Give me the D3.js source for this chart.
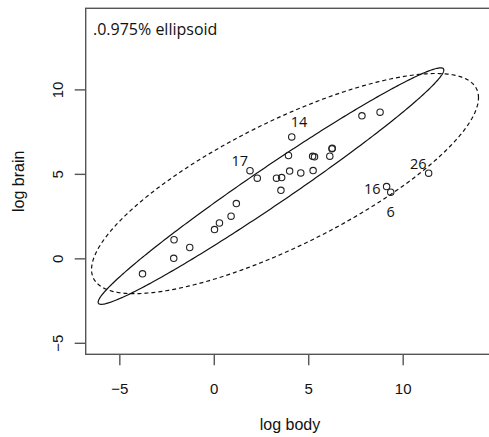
<!DOCTYPE html>
<html><head><meta charset="utf-8">
<script src="https://cdn.jsdelivr.net/npm/d3@7"></script>
<style>body{margin:0;background:#fff}svg{display:block}</style>
</head><body><svg id="c" width="489" height="437"></svg>
<script>
// Animals data (log scale), index 1..28
const ids = d3.range(1, 29);
const logBody = [0.300, 6.142, 3.593, 3.320, 0.039, 9.367, 7.843, 5.232, 6.256, 2.303,
  1.194, 6.271, 5.333, 4.127, 8.803, 9.148, 1.917, 3.555, -2.120, -3.772,
  0.916, 4.016, 4.605, 3.954, -1.273, 11.374, -2.104, 5.258];
const logBrain = [2.092, 6.047, 4.783, 4.745, 1.705, 3.912, 8.434, 6.038, 6.485, 4.745,
  3.243, 6.522, 6.006, 7.185, 8.650, 4.248, 5.187, 4.025, 0.000, -0.916,
  2.493, 5.165, 5.056, 6.087, 0.642, 5.040, 1.099, 5.193];
const xTicks = [-5, 0, 5, 10];
const yTicks = [-5, 0, 5, 10];
const labelIds = [14, 17, 26, 16, 6];
const labelPos = ["NE", "NW", "NW", "W", "S"];
const robustExcluded = [6, 14, 16, 17, 26];
const level = 0.975;
const xDomain = [-6.78, 14.85];
const yDomain = [-5.68, 14.8];
const titleText = ".0.975% ellipsoid";
const xLabel = "log body", yLabel = "log brain";

const svg = d3.select("#c");
const L = 85.7, R = 494.3, T = 8.3, B = 354.3;
const x = d3.scaleLinear().domain(xDomain).range([L, R]);
const y = d3.scaleLinear().domain(yDomain).range([B, T]);

const pts = ids.map((id, i) => ({id, x: logBody[i], y: logBrain[i]}));

function covStats(p) {
  const n = p.length, mx = d3.mean(p, d => d.x), my = d3.mean(p, d => d.y);
  let sxx = 0, syy = 0, sxy = 0;
  p.forEach(d => { sxx += (d.x - mx) ** 2; syy += (d.y - my) ** 2; sxy += (d.x - mx) * (d.y - my); });
  return {mx, my, sxx: sxx / (n - 1), syy: syy / (n - 1), sxy: sxy / (n - 1)};
}
function ellipse(s) {
  const r = Math.sqrt(-2 * Math.log(1 - level));
  const l11 = Math.sqrt(s.sxx), l21 = s.sxy / l11, l22 = Math.sqrt(s.syy - l21 * l21);
  return d3.range(0, 361).map(i => {
    const t = i * Math.PI / 180, u = Math.cos(t), v = Math.sin(t);
    return [s.mx + r * l11 * u, s.my + r * (l21 * u + l22 * v)];
  });
}
const classical = covStats(pts);
const robust = covStats(pts.filter(d => !robustExcluded.includes(d.id)));
const line = d3.line().x(d => x(d[0])).y(d => y(d[1]));

svg.append("path").attr("d", line(ellipse(robust)))
  .attr("fill", "none").attr("stroke", "#111").attr("stroke-width", 1.2);
svg.append("path").attr("d", line(ellipse(classical)))
  .attr("fill", "none").attr("stroke", "#111").attr("stroke-width", 1.2)
  .attr("stroke-dasharray", "4,3");

svg.selectAll("circle.pt").data(pts).join("circle").attr("class", "pt")
  .attr("cx", d => x(d.x)).attr("cy", d => y(d.y)).attr("r", 3.2)
  .attr("fill", "none").attr("stroke", "#222").attr("stroke-width", 1.1);

// box
svg.append("rect").attr("x", L).attr("y", T).attr("width", R - L).attr("height", B - T)
  .attr("fill", "none").attr("stroke", "#555").attr("stroke-width", 1.4);

// axes
const ax = svg.append("g").attr("transform", `translate(0,${B})`)
  .call(d3.axisBottom(x).tickValues(xTicks).tickSize(11).tickPadding(18).tickFormat(d3.format("d")));
const ay = svg.append("g").attr("transform", `translate(${L},0)`)
  .call(d3.axisLeft(y).tickValues(yTicks).tickSize(11).tickFormat(d3.format("d")));
[ax, ay].forEach(g => {
  g.select(".domain").remove();
  g.selectAll("line").attr("stroke", "#555").attr("stroke-width", 1.4);
  g.selectAll("text").attr("fill", "#111").style("font-family", "'Liberation Sans', Arial, sans-serif").style("font-size", "15px");
});
ay.selectAll("text").attr("transform", "rotate(-90)").attr("x", 0).attr("y", -22.5)
  .attr("dy", null).attr("text-anchor", "middle");

svg.append("text").attr("x", (L + R) / 2).attr("y", 430).attr("text-anchor", "middle")
  .style("font-family", "'Liberation Sans', Arial, sans-serif").style("font-size", "16px").attr("fill", "#111")
  .text(xLabel);
svg.append("text").attr("transform", `translate(24,${(T + B) / 2}) rotate(-90)`).attr("text-anchor", "middle")
  .style("font-family", "'Liberation Sans', Arial, sans-serif").style("font-size", "16px").attr("fill", "#111")
  .text(yLabel);

svg.append("text").attr("x", 93).attr("y", 35)
  .style("font-family", "'Open Sans', sans-serif").style("font-size", "16px").attr("fill", "#111")
  .text(titleText);

const posMap = {NE: ["start", -1, -9.5], NW: ["end", -2, -4.5], W: ["end", -6, 7.5], S: ["middle", 0, 24.5]};
labelIds.forEach((id, i) => {
  const p = pts.find(d => d.id === id), m = posMap[labelPos[i]];
  svg.append("text").attr("x", x(p.x) + m[1]).attr("y", y(p.y) + m[2]).attr("text-anchor", m[0])
    .style("font-family", "'Open Sans', sans-serif").style("font-size", "14.5px").attr("fill", "#111")
    .text(id);
});
</script></body></html>
